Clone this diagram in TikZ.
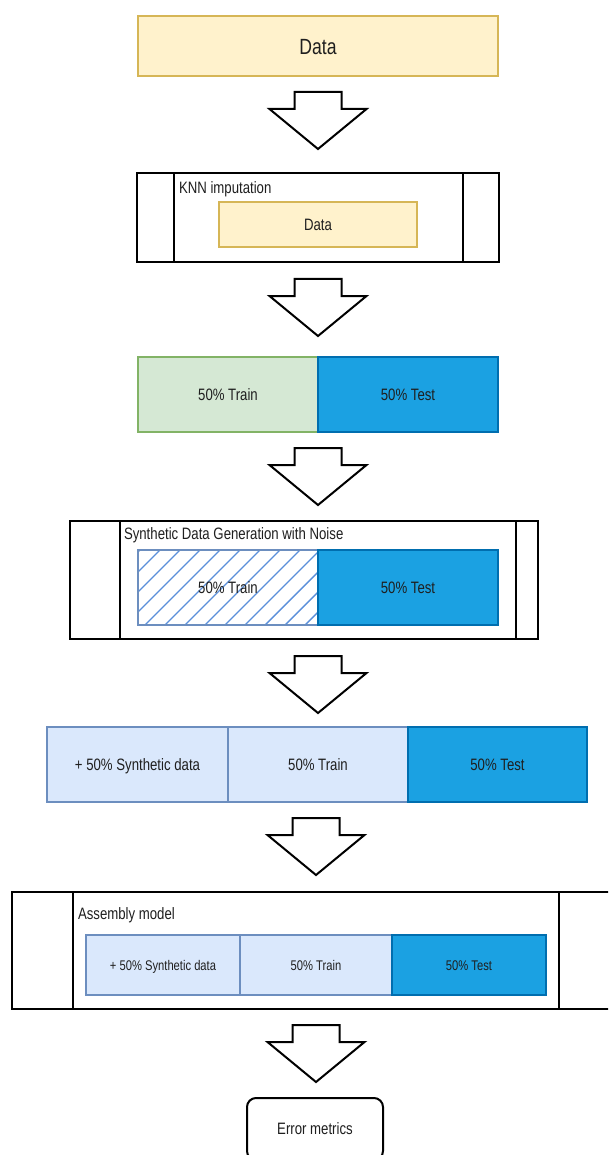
\documentclass[tikz,border=0pt]{standalone}
\usepackage{fontspec}
\setmainfont{Liberation Sans}[FakeStretch=0.8]
\definecolor{ink}{HTML}{1F1F1F}
\definecolor{yfill}{HTML}{FFF2CC}
\definecolor{ydraw}{HTML}{D6B656}
\definecolor{gfill}{HTML}{D5E8D4}
\definecolor{gdraw}{HTML}{82B366}
\definecolor{bfill}{HTML}{1BA1E2}
\definecolor{bdraw}{HTML}{006EAF}
\definecolor{lfill}{HTML}{DAE8FC}
\definecolor{ldraw}{HTML}{6C8EBF}
\definecolor{hatch}{HTML}{5A8FDA}
\begin{document}
\begin{tikzpicture}[x=1pt,y=-1pt,line join=miter,
  every node/.style={inner sep=0pt,outer sep=0pt,text=ink},
  txt/.style={font=\fontsize{16.5}{19}\selectfont,text height=11.8pt,text depth=0pt},
  label/.style={font=\fontsize{16.5}{19}\selectfont,anchor=base west},
  small/.style={font=\fontsize{14}{17}\selectfont,text height=10pt,text depth=0pt},
  big/.style={font=\fontsize{22}{26}\selectfont,text height=15.75pt,text depth=0pt},
  box/.style={rectangle,minimum width=#1},
  yellowbox/.style={draw=ydraw,fill=yfill,line width=2pt},
  greenbox/.style={draw=gdraw,fill=gfill,line width=2pt},
  testbox/.style={draw=bdraw,fill=bfill,line width=2pt},
  lightbox/.style={draw=ldraw,fill=lfill,line width=2pt},
  process/.style={draw=black,fill=white,line width=2.2pt},
  arrowshape/.style={draw=black,fill=white,line width=2pt},
  blockarrow/.pic={\draw[arrowshape] (-23.5,0) -- (23.5,0) -- (23.5,17) -- (48.5,17)
      -- (0,57) -- (-48.5,17) -- (-23.5,17) -- cycle;}]
\useasboundingbox (0,0) rectangle (608,1155);
\clip (0,0) rectangle (608,1155);

% raw data
\node[yellowbox,big,box=360,minimum height=60] (data) at (318,46.5) {Data};
\pic at (318,92) {blockarrow};

% KNN imputation step
\node[process,box=362,minimum height=89] (knn) at (318,217.5) {};
\draw[line width=2pt] ([xshift=37pt]knn.north west) -- ([xshift=37pt]knn.south west);
\draw[line width=2pt] ([xshift=-36pt]knn.north east) -- ([xshift=-36pt]knn.south east);
\node[label] (knnlabel) at (179,194) {KNN imputation};
\node[yellowbox,txt,box=198,minimum height=45] (knndata) at (318,224.5) {Data};
\pic at (318,279) {blockarrow};

% train / test split
\node[greenbox,txt,box=180,minimum height=75] (train1) at (228,394.5) {50\% Train};
\node[testbox,txt,box=180,minimum height=75] (test1) at (408,394.5) {50\% Test};
\pic at (318,448) {blockarrow};

% synthetic data generation step
\node[process,box=468,minimum height=118] (synth) at (304,580) {};
\draw[line width=2pt] ([xshift=50pt]synth.north west) -- ([xshift=50pt]synth.south west);
\draw[line width=2pt] ([xshift=-22pt]synth.north east) -- ([xshift=-22pt]synth.south east);
\node[label] (synthlabel) at (124,539) {Synthetic Data Generation with Noise};
\node[box=180,minimum height=75,fill=white] (htrain) at (228,587.5) {};
\begin{scope}
  \clip (htrain.south west) rectangle (htrain.north east);
  \foreach \t in {140,160,...,400}
    \draw[hatch,line width=1.4pt] (\t,550) -- (\t-75,625);
\end{scope}
\node[box=180,minimum height=75,draw=ldraw,line width=2pt,txt] at (htrain) {50\% Train};
\node[testbox,txt,box=180,minimum height=75] (htest) at (408,587.5) {50\% Test};
\pic at (318,656) {blockarrow};

% augmented training data
\node[lightbox,txt,box=181,minimum height=75] (syn5) at (137.5,764.5) {+ 50\% Synthetic data};
\node[lightbox,txt,box=180,minimum height=75] (train5) at (318,764.5) {50\% Train};
\node[testbox,txt,box=179,minimum height=75] (test5) at (497.5,764.5) {50\% Test};
\pic at (316,818) {blockarrow};

% assembly model step
\node[process,box=608,minimum height=117] (asm) at (316,950.5) {};
\draw[line width=2pt] ([xshift=61pt]asm.north west) -- ([xshift=61pt]asm.south west);
\draw[line width=2pt] ([xshift=-61pt]asm.north east) -- ([xshift=-61pt]asm.south east);
\node[label] (asmlabel) at (78,919) {Assembly model};
\node[lightbox,small,box=154,minimum height=60] (syn6) at (163,965) {+ 50\% Synthetic data};
\node[lightbox,small,box=152,minimum height=60] (train6) at (316,965) {50\% Train};
\node[testbox,small,box=154,minimum height=60] (test6) at (469,965) {50\% Test};
\pic at (316,1025) {blockarrow};

% evaluation
\node[draw=black,fill=white,line width=2pt,rounded corners=9pt,txt,
      box=136,minimum height=62] (err) at (315,1129) {Error metrics};
\end{tikzpicture}
\end{document}
